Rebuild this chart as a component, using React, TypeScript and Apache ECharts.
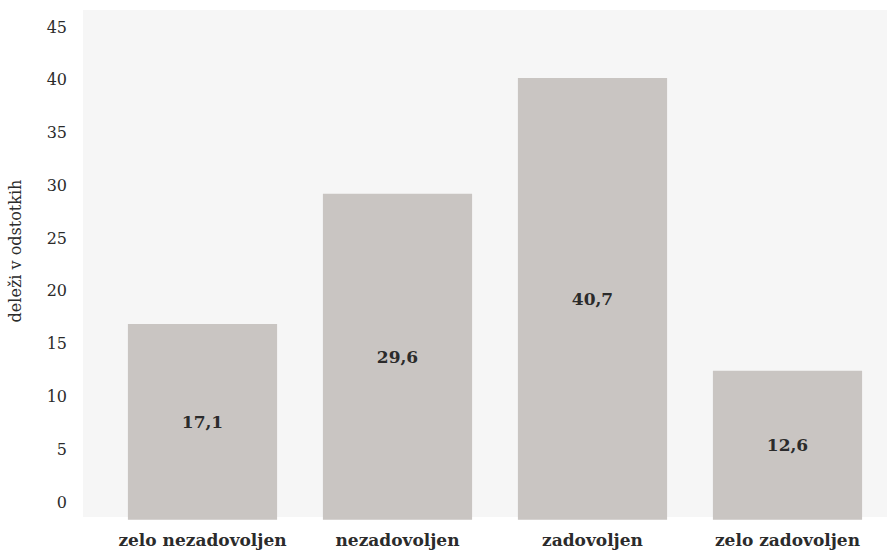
import React, { useEffect, useRef } from "react";
import * as echarts from "echarts";

const categories = ["zelo nezadovoljen", "nezadovoljen", "zadovoljen", "zelo zadovoljen"];
const values = [17.1, 29.6, 40.7, 12.6];
const valueLabels = ["17,1", "29,6", "40,7", "12,6"];
const yTicks = [0, 5, 10, 15, 20, 25, 30, 35, 40, 45];
const axisTitle = "deleži v odstotkih";
const BAR_BASE = -1.7;

export default function App() {
  const ref = useRef<HTMLDivElement>(null);
  useEffect(() => {
    if (!ref.current) return;
    const chart = echarts.init(ref.current, undefined, { renderer: "svg" });
    const font = "'DejaVu Serif', serif";
    chart.setOption({
      animation: false,
      backgroundColor: "#ffffff",
      graphic: [
        {
          type: "rect",
          z: -10,
          silent: true,
          shape: { x: 83, y: 10, width: 804, height: 507 },
          style: { fill: "#f6f6f6" },
        },
        {
          type: "text",
          x: 15,
          y: 251,
          rotation: Math.PI / 2,
          style: {
            text: axisTitle,
            font: "16px 'DejaVu Serif', serif",
            fontFamily: font,
            fontSize: 16,
            fill: "#2b2b2b",
            align: "center",
            verticalAlign: "middle",
          },
        },
      ],
      grid: { left: 105, right: 2, top: 27, bottom: 49, containLabel: false },
      xAxis: {
        type: "category",
        data: categories,
        axisLine: { show: false },
        axisTick: { show: false },
        axisLabel: {
          interval: 0,
          margin: 29,
          fontFamily: font,
          fontWeight: "bold",
          fontSize: 17,
          color: "#2b2b2b",
        },
      },
      yAxis: [
        {
          type: "value",
          min: yTicks[0],
          max: yTicks[yTicks.length - 1],
          interval: 5,
          splitLine: { show: false },
          axisLine: { show: false },
          axisTick: { show: false },
          axisLabel: {
            margin: 38,
            fontFamily: font,
            fontSize: 16,
            color: "#2b2b2b",
          },
        },
        {
          type: "value",
          min: 0,
          max: 45.6,
          show: false,
          splitLine: { show: false },
        },
      ],
      series: [
        {
          type: "custom",
          yAxisIndex: 1,
          data: values.map((v, i) => [i, v]),
          renderItem: (params: any, api: any) => {
            const idx = api.value(0);
            const top = api.coord([idx, api.value(1)]);
            const base = api.coord([idx, BAR_BASE]);
            const w = api.size([1, 0])[0] * 0.765;
            return {
              type: "rect",
              shape: { x: top[0] - w / 2, y: top[1], width: w, height: base[1] - top[1] },
              style: { fill: "#c9c5c2" },
              textContent: {
                style: {
                  text: valueLabels[params.dataIndex],
                  fontFamily: font,
                  fontWeight: "bold",
                  fontSize: 17,
                  fill: "#2b2b2b",
                },
              },
              textConfig: { position: "inside" },
            };
          },
        },
      ],
    });
    return () => chart.dispose();
  }, []);
  return (
    <div
      ref={ref}
      style={{ position: "fixed", left: 0, top: 0, width: 887, height: 551 }}
    />
  );
}
